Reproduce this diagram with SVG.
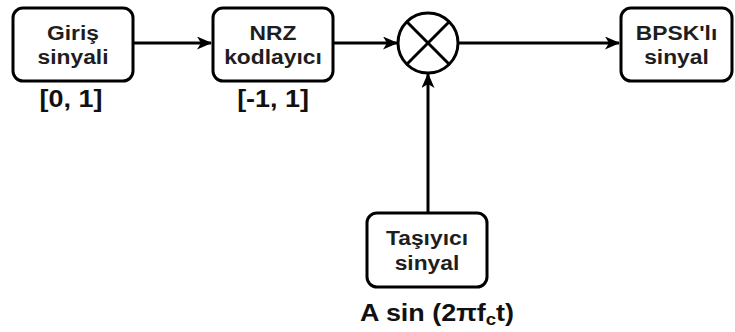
<svg xmlns="http://www.w3.org/2000/svg" width="735" height="332" viewBox="0 0 735 332">
<defs>
<marker id="ah" markerWidth="15" markerHeight="13" refX="14" refY="6.5" orient="auto" markerUnits="userSpaceOnUse">
<path d="M0,0 L15,6.5 L0,13 L4,6.5 Z" fill="#000"/>
</marker>
<style>
.box{fill:#fff;stroke:#000;stroke-width:3}
.t{font-family:"Liberation Sans",Arial,sans-serif;font-weight:bold;font-size:19.5px;fill:#1e1e1e;text-anchor:middle}
.l{font-family:"Liberation Sans",Arial,sans-serif;font-weight:bold;font-size:23px;fill:#111;text-anchor:middle}
.c{fill:none;stroke:#000;stroke-width:3}
</style>
</defs>
<g id="connectors" class="c">
<line x1="133" y1="43" x2="211" y2="43" marker-end="url(#ah)"/>
<line x1="333" y1="43" x2="397" y2="43" marker-end="url(#ah)"/>
<line x1="458" y1="43" x2="619" y2="43" marker-end="url(#ah)"/>
<line x1="428" y1="213" x2="428" y2="74" marker-end="url(#ah)"/>
</g>
<g id="giris">
<rect class="box" x="13" y="8" width="120" height="73" rx="10"/>
<text class="t" transform="translate(73,39.5) scale(1.17,1)">Giriş</text>
<text class="t" transform="translate(73,64) scale(1.17,1)">sinyali</text>
<text class="l" transform="translate(71,107) scale(1.17,1)">[0, 1]</text>
</g>
<g id="nrz">
<rect class="box" x="213" y="8" width="120" height="73" rx="10"/>
<text class="t" transform="translate(273,39.5) scale(1.17,1)">NRZ</text>
<text class="t" transform="translate(273,64) scale(1.17,1)">kodlayıcı</text>
<text class="l" transform="translate(273,107) scale(1.17,1)">[-1, 1]</text>
</g>
<g id="mixer">
<circle cx="428" cy="43" r="30" class="c"/>
<line x1="406.8" y1="21.8" x2="449.2" y2="64.2" class="c"/>
<line x1="449.2" y1="21.8" x2="406.8" y2="64.2" class="c"/>
</g>
<g id="bpsk">
<rect class="box" x="621" y="8" width="111" height="73" rx="10"/>
<text class="t" transform="translate(676.5,39.5) scale(1.17,1)">BPSK'lı</text>
<text class="t" transform="translate(676.5,64) scale(1.17,1)">sinyal</text>
</g>
<g id="tasiyici">
<rect class="box" x="367" y="213" width="120" height="74" rx="10"/>
<text class="t" transform="translate(427,245) scale(1.17,1)">Taşıyıcı</text>
<text class="t" transform="translate(427,270) scale(1.17,1)">sinyal</text>
<text class="l" transform="translate(437,321) scale(1.17,1)">A sin (2πf<tspan font-size="16" dy="4">c</tspan><tspan dy="-4">t)</tspan></text>
</g>
</svg>
